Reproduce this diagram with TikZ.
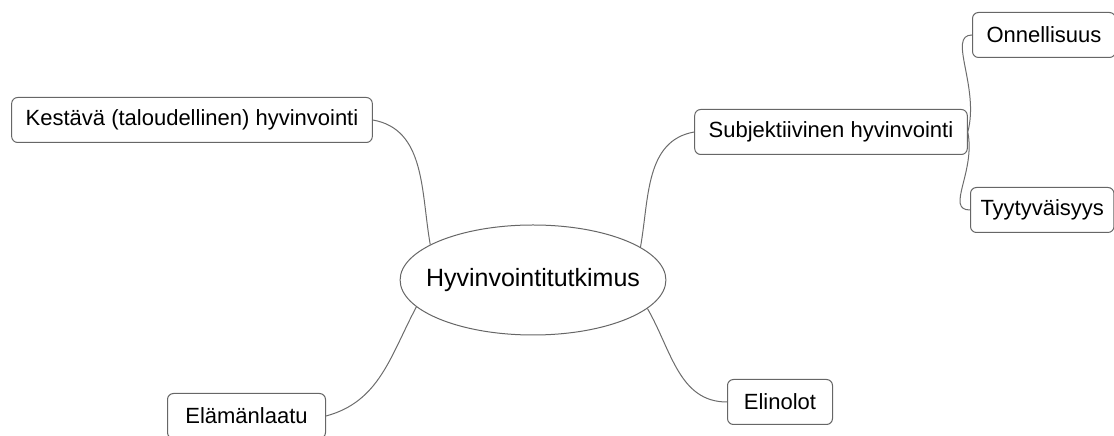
\documentclass[tikz,border=0pt]{standalone}
\usepackage{fontspec}
\setmainfont{Liberation Sans}
\usetikzlibrary{shapes.geometric, positioning}
\tikzset{
  topic/.style={rectangle, draw=gray!80!black, rounded corners=6pt,
                line width=1pt, minimum height=45pt, inner xsep=14pt,
                fill=white, font=\fontsize{22}{26}\selectfont},
  core/.style={ellipse, draw=gray!80!black, line width=1pt,
               minimum width=263pt, minimum height=110pt,
               inner xsep=-13pt, inner ysep=0pt,
               fill=white, font=\fontsize{25}{30}\selectfont},
  link/.style={draw=gray!85!black, line width=1pt},
}

\begin{document}
\begin{tikzpicture}[x=1pt, y=1pt]

  \useasboundingbox (0,0) rectangle (1114,436);

  % centre and main branches
  \node[core] (hyv) at (533,156) {Hyvinvointitutkimus};
  \node[topic] (kest) at (192,316) {Kestävä (taloudellinen) hyvinvointi};
  \node[topic] (subj) at (831,304) {Subjektiivinen hyvinvointi};
  \node[topic, minimum width=158pt, anchor=west] (elam) at (167,20) {Elämänlaatu};
  \node[topic, minimum width=105pt] (elin) at (780,34) {Elinolot};

  % sub branches
  \node[topic, anchor=west] (onn) at (972,401) {Onnellisuus};
  \node[topic, inner xsep=10pt, anchor=west] (tyyt) at (970,226) {Tyytyväisyys};

  \draw[link] (kest.east) to[out=-10, in=100] (hyv.161);
  \draw[link] (subj.west) to[out=190, in=80] (hyv.17);
  \draw[link] (elam.east) to[out=15, in=242] (hyv.193);
  \draw[link] (hyv.346) to[out=-60, in=180] (elin.west);

  \draw[link] (subj.east) .. controls +(12,45) and +(-25,0) .. (onn.west);
  \draw[link] (subj.east) .. controls +(8,-40) and +(-25,0) .. (tyyt.west);

\end{tikzpicture}
\end{document}
